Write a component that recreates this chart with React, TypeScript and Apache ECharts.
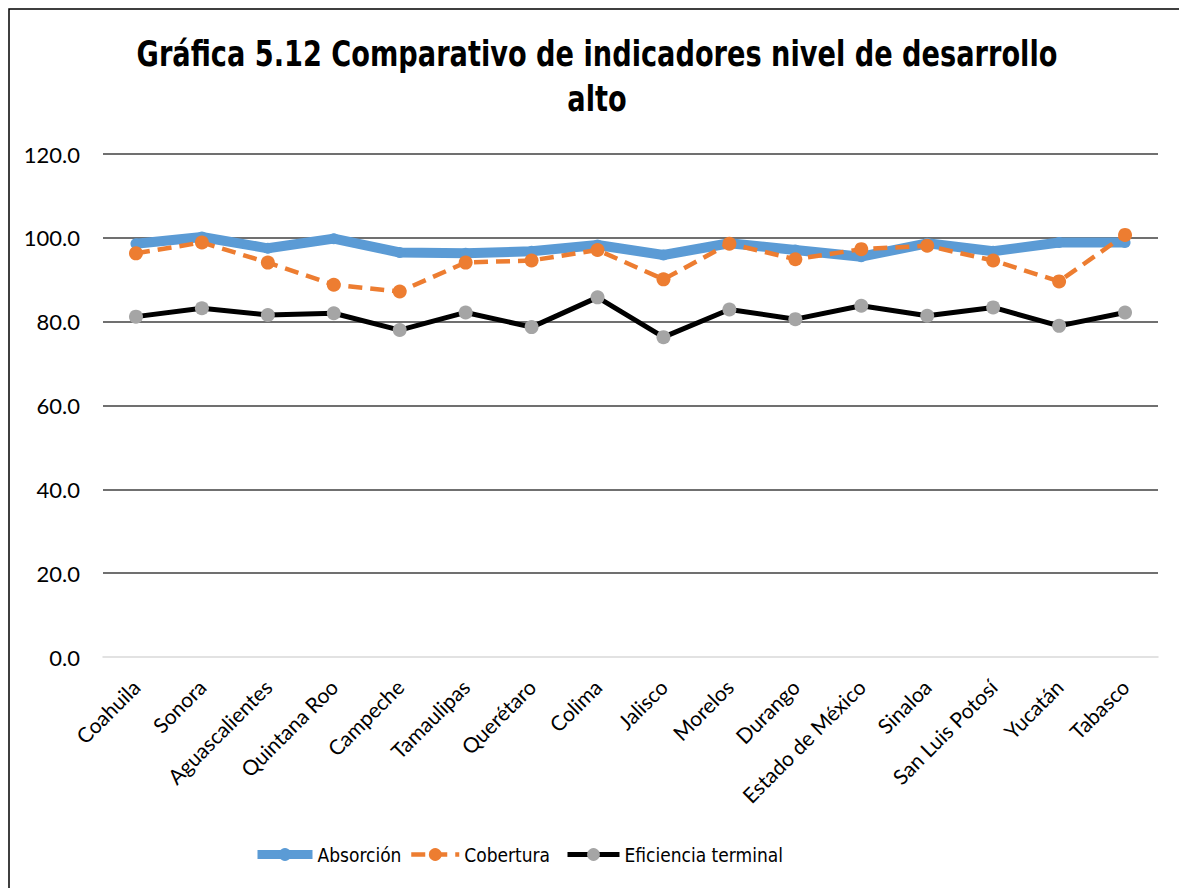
import React, { useEffect, useRef } from "react";
import * as echarts from "echarts";

const categories = [
  "Coahuila", "Sonora", "Aguascalientes", "Quintana Roo", "Campeche", "Tamaulipas",
  "Querétaro", "Colima", "Jalisco", "Morelos", "Durango", "Estado de México",
  "Sinaloa", "San Luis Potosí", "Yucatán", "Tabasco",
];
const absorcion = [98.6, 100.2, 97.5, 99.8, 96.5, 96.3, 96.8, 98.3, 95.9, 98.7, 97.1, 95.5, 98.7, 96.8, 98.9, 98.9];
const cobertura = [96.3, 98.9, 94.1, 88.8, 87.2, 94.1, 94.6, 97.1, 90.1, 98.6, 94.9, 97.3, 98.1, 94.6, 89.6, 100.7];
const eficiencia = [81.2, 83.2, 81.6, 82.0, 78.0, 82.2, 78.7, 85.8, 76.3, 82.9, 80.6, 83.8, 81.4, 83.4, 79.0, 82.2];
const titleLines = ["Gráfica 5.12 Comparativo de indicadores nivel de desarrollo", "alto"];

const NARROW = "'DejaVu Sans Condensed', 'Liberation Sans Narrow', sans-serif";
const BODY = "Lato, 'Open Sans', sans-serif";

export default function App() {
  const ref = useRef<HTMLDivElement>(null);
  useEffect(() => {
    if (!ref.current) return;
    const chart = echarts.init(ref.current, null, { renderer: "svg" });
    const legendBase = {
      top: 845,
      padding: 0,
      itemHeight: 16,
      textStyle: { fontFamily: NARROW, fontSize: 19, color: "#000" },
    };
    const titleStyle = {
      fontFamily: NARROW,
      fontWeight: "bold",
      fontSize: 36,
      fill: "#000",
      textAlign: "center",
      textVerticalAlign: "middle",
    };
    chart.setOption({
      animation: false,
      backgroundColor: "#fff",
      graphic: [
        {
          type: "rect",
          shape: { x: 9, y: 9, width: 1300, height: 1000 },
          style: { fill: "none", stroke: "#000", lineWidth: 1.5 },
          silent: true,
        },
        {
          type: "text",
          x: 597,
          y: 54,
          scaleX: 0.84,
          style: { ...titleStyle, text: titleLines[0] },
        },
        {
          type: "text",
          x: 597,
          y: 99,
          scaleX: 0.84,
          style: { ...titleStyle, text: titleLines[1] },
        },
      ],
      legend: [
        {
          ...legendBase,
          left: 253,
          itemWidth: 55,
          data: [{ name: "Absorción", lineStyle: { width: 9 } }],
        },
        {
          ...legendBase,
          left: 409,
          itemWidth: 48,
          data: [{ name: "Cobertura", lineStyle: { width: 4.5 } }],
        },
        {
          ...legendBase,
          left: 565,
          itemWidth: 52,
          data: [{ name: "Eficiencia terminal", lineStyle: { width: 5 } }],
        },
      ],
      grid: { left: 103, right: 21, top: 154, bottom: 231 },
      xAxis: {
        type: "category",
        data: categories,
        boundaryGap: true,
        axisTick: { show: false },
        axisLine: { lineStyle: { color: "#d9d9d9", width: 1.5 } },
        axisLabel: {
          rotate: 45,
          interval: 0,
          margin: 26,
          fontFamily: BODY,
          fontSize: 21,
          color: "#000",
        },
      },
      yAxis: {
        type: "value",
        min: 0,
        max: 120,
        interval: 20,
        axisLine: { show: false },
        axisTick: { show: false },
        splitLine: { showMinLine: false, lineStyle: { color: "#404040", width: 1.5 } },
        axisLabel: {
          margin: 23,
          fontFamily: BODY,
          fontSize: 22,
          color: "#000",
          formatter: (v: number) => v.toFixed(1),
        },
      },
      series: [
        {
          name: "Absorción",
          type: "line",
          data: absorcion,
          symbol: "circle",
          symbolSize: 11,
          itemStyle: { color: "#5B9BD5" },
          lineStyle: { color: "#5B9BD5", width: 10 },
        },
        {
          name: "Cobertura",
          type: "line",
          data: cobertura,
          symbol: "circle",
          symbolSize: 14,
          itemStyle: { color: "#ED7D31" },
          lineStyle: { color: "#ED7D31", width: 4.5, type: [14, 8] },
        },
        {
          name: "Eficiencia terminal",
          type: "line",
          data: eficiencia,
          symbol: "circle",
          symbolSize: 14,
          itemStyle: { color: "#A5A5A5" },
          lineStyle: { color: "#000", width: 5 },
        },
      ],
    });
    return () => chart.dispose();
  }, []);
  return (
    <div
      ref={ref}
      style={{ position: "absolute", left: 0, top: 0, width: 1179, height: 888 }}
    />
  );
}
